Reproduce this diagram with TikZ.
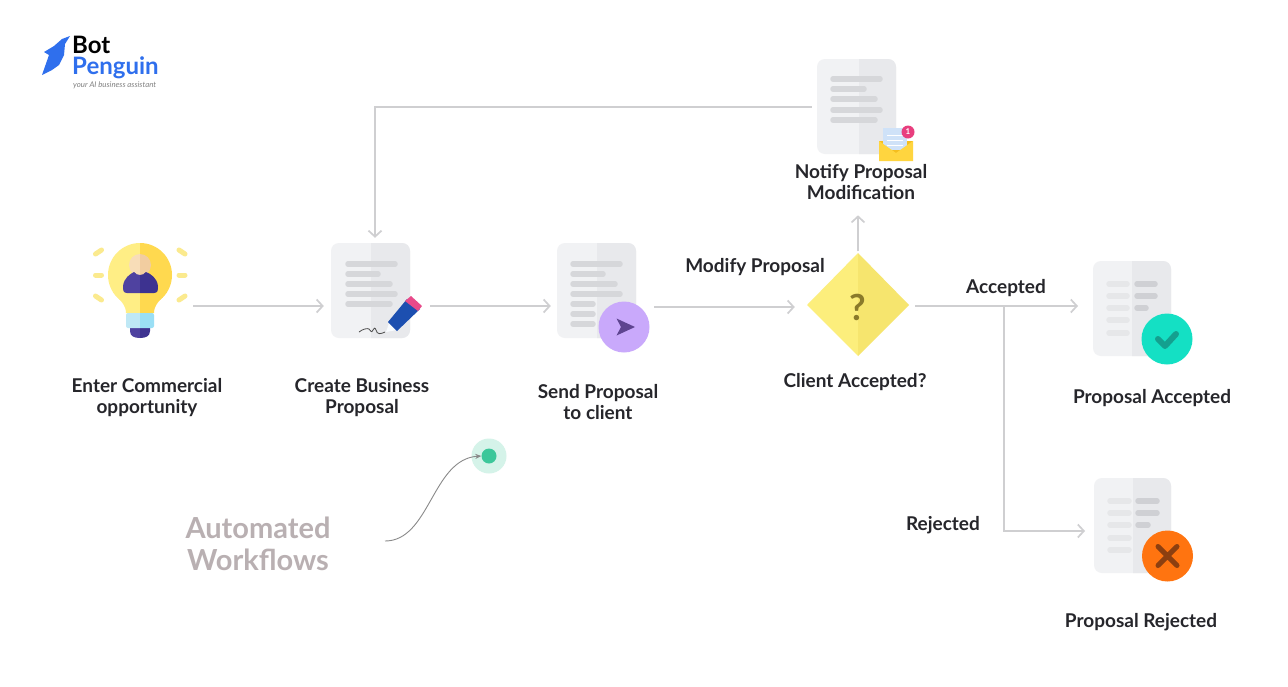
\documentclass[tikz,border=0pt]{standalone}
\usepackage{fontspec}
\setmainfont{Lato}
\usetikzlibrary{arrows.meta,shapes.geometric}
\definecolor{conn}{HTML}{CFCFD1}
\definecolor{docl}{HTML}{F1F2F4}
\definecolor{docr}{HTML}{E8E9EC}
\definecolor{lineA}{HTML}{D6D7DA}
\definecolor{lineB}{HTML}{E6E7E9}
\definecolor{lineC}{HTML}{CFD0D4}
\definecolor{inktxt}{HTML}{26262B}
\definecolor{brandblue}{HTML}{2F6FED}
\definecolor{ray}{HTML}{FBEA8E}
\definecolor{bulbL}{HTML}{FFEE85}
\definecolor{bulbR}{HTML}{FFD94F}
\definecolor{baseL}{HTML}{BFE8F5}
\definecolor{baseR}{HTML}{9ADFF5}
\definecolor{darkL}{HTML}{4F42A0}
\definecolor{darkR}{HTML}{3D3290}
\definecolor{skinL}{HTML}{F8DDB8}
\definecolor{skinR}{HTML}{F2CDA0}
\definecolor{penblue}{HTML}{1C4FB0}
\definecolor{penpink}{HTML}{E84A8A}
\definecolor{lav}{HTML}{C9A9FB}
\definecolor{plane}{HTML}{5E4490}
\definecolor{envA}{HTML}{F5BE1E}
\definecolor{envB}{HTML}{FFD53F}
\definecolor{paper}{HTML}{CFE2F8}
\definecolor{bell}{HTML}{E83E7E}
\definecolor{diaL}{HTML}{FCEE7C}
\definecolor{diaR}{HTML}{F6E56E}
\definecolor{qmark}{HTML}{8A7A2A}
\definecolor{okfill}{HTML}{14E0C4}
\definecolor{okmark}{HTML}{14A08F}
\definecolor{nofill}{HTML}{FF7410}
\definecolor{nomark}{HTML}{8C3F10}
\definecolor{awtxt}{HTML}{B9B0B2}
\definecolor{halo}{HTML}{D5F3E9}
\definecolor{dotg}{HTML}{3CC79A}
\definecolor{curve}{HTML}{8A8A8A}
\tikzset{
  flow/.style={draw=conn,line width=1.7pt,-{Straight Barb[length=6pt,width=13pt,line width=1.7pt]}},
  docbox/.style={fill=docl,rounded corners=8pt,inner sep=0pt},
  lbl/.style={font=\fontsize{19}{21}\selectfont\bfseries,text=inktxt,align=center,inner sep=0pt,yshift=-1pt},
  txtbar/.style={line cap=round,line width=5.5pt},
  badge/.style={circle,inner sep=0pt},
}
% name, left, top, right, bottom, mid
\newcommand{\docsheet}[6]{%
  \node[docbox,minimum width=#4pt-#2pt,minimum height=#5pt-#3pt] (#1) at ({(#2+#4)/2},{(#3+#5)/2}) {};
  \begin{scope}
    \clip (#6,#3) rectangle (#4,#5);
    \fill[docr,rounded corners=8pt] (#2,#3) rectangle (#4,#5);
  \end{scope}}
\newcommand{\bulbbody}[4]{% glass, base, dark, skin
  \fill[#1] (140,275) circle (32pt);
  \fill[#1] (113,292) .. controls (120,300) and (126,305) .. (126,313) -- (154,313) .. controls (154,305) and (160,300) .. (167,292) -- cycle;
  \fill[#3] (130,322) -- (150,322) -- (150,331) .. controls (150,336) and (146,338) .. (140,338) .. controls (134,338) and (130,336) .. (130,331) -- cycle;
  \fill[#2,rounded corners=2pt] (126,313) -- (154,313) -- (154,328) -- (126,328) -- cycle;
  \fill[#4] (140,265) circle (11pt);
  \fill[#3] (127,293) .. controls (123,293) and (123,290) .. (123,286) .. controls (124,278) and (130,274) .. (134,272) .. controls (137,276) and (143,276) .. (146,272) .. controls (151,274) and (157,278) .. (158,286) .. controls (158,290) and (158,293) .. (154,293) -- cycle;
}
\begin{document}
\begin{tikzpicture}[x=1pt,y=-1pt]
\useasboundingbox (0,0) rectangle (1288,686);
\fill[white] (0,0) rectangle (1288,686);

% --- logo
\fill[brandblue] (70,36) -- (62,39) -- (54,46) -- (44,52) -- (49,55) -- (42,75) -- (52,70) -- (59,65) -- (64,55) -- (65,44) -- cycle;
\node[anchor=north west,align=left,inner sep=0pt,font=\fontsize{24}{21}\selectfont\bfseries,text=black] (logoA) at (72,36) {Bot\\\textcolor{brandblue}{Penguin}};
\node[anchor=west,inner sep=0pt,font=\fontsize{7.8}{9}\selectfont\itshape,text=gray] (logoC) at (73,85.5) {your AI business assistant};

% --- bulb
\node[inner sep=0pt,minimum width=90pt,minimum height=95pt] (bulb) at (140,291) {};
\foreach \yy/\dl in {252/2,275/0,298/-2}{
  \draw[ray,line width=5pt,line cap=round] (95.5,\yy+\dl) -- (101.5,\yy-\dl);
  \draw[ray,line width=5pt,line cap=round] (179,\yy-\dl) -- (185,\yy+\dl);
}
\begin{scope}
  \clip (100,235) rectangle (140,345);
  \bulbbody{bulbL}{baseL}{darkL}{skinL}
\end{scope}
\begin{scope}
  \clip (140,235) rectangle (180,345);
  \bulbbody{bulbR}{baseR}{darkR}{skinR}
\end{scope}

% --- documents
\docsheet{create}{331}{243}{410}{338}{371}
\foreach \yy/\xe in {264/397,274/380,284/392,294/397,304/392}
  \draw[lineA,txtbar] (348,\yy) -- (\xe-2,\yy);
\docsheet{send}{557}{243}{636}{338}{597}
\foreach \yy/\xe in {264/622,274/605,284/617,294/622,304/595,314/595,324/595}
  \draw[lineA,txtbar] (573,\yy) -- (\xe-2,\yy);
\docsheet{notify}{817}{59}{896}{154}{859}
\foreach \yy/\xe in {79/882,89/866,99/877,110/882,120/877}
  \draw[lineA,txtbar] (833,\yy) -- (\xe-2,\yy);
\docsheet{acc}{1093}{261}{1171}{356}{1132}
\foreach \yy in {284,296,308,320,333}
  \draw[lineB,txtbar] (1109,\yy) -- (1127,\yy);
\foreach \yy/\xe in {284/1155,296/1155,308/1146}
  \draw[lineC,txtbar] (1137,\yy) -- (\xe,\yy);
\docsheet{rej}{1094}{478}{1171}{573}{1133}
\foreach \yy in {501,513,525,538,550}
  \draw[lineB,txtbar] (1110,\yy) -- (1129,\yy);
\foreach \yy/\xe in {501/1157,513/1157,525/1148}
  \draw[lineC,txtbar] (1138,\yy) -- (\xe,\yy);

% --- pen on create
\draw[black!70,line width=0.8pt] (359,332) .. controls (363,329) and (367,328) .. (369,329) .. controls (371,330) and (371,334) .. (373,330) .. controls (374,328) and (375,327) .. (376,330) .. controls (377,335) and (381,334) .. (385,332);
\fill[white!85!paper] (386,332) -- (389,323) -- (397,330) -- cycle;
\fill[penblue] (388,322) -- (407,299) -- (420,309) -- (397,331) -- cycle;
\fill[penpink] (405,301) -- (411,296) -- (422,306) -- (418,311) -- cycle;

% --- send badge
\node[badge,fill=lav,minimum size=51pt] (sendb) at (624,327) {};
\fill[plane] (616.5,318.5) -- (635,327) -- (616.5,335.5) -- (621,327) -- cycle;

% --- envelope on notify
\fill[envA] (879,141) -- (913,141) -- (913,161) -- (879,161) -- cycle;
\fill[paper] (883,128) rectangle (907,150);
\foreach \yy in {135,140,145}\draw[white,line width=1pt] (887,\yy) -- (903,\yy);
\fill[envB] (879,141) -- (896,153) -- (913,141) -- (913,161) -- (879,161) -- cycle;
\node[badge,fill=bell,minimum size=13pt,text=white,font=\fontsize{8}{8}\selectfont\bfseries] (bellb) at (908,132) {1};

% --- decision
\fill[diaL] (858,253) -- (807,305) -- (858,356) -- cycle;
\fill[diaR] (858,253) -- (909,305) -- (858,356) -- cycle;
\node[diamond,minimum width=102pt,minimum height=103pt,inner sep=0pt] (decide) at (858,305) {};
\node[inner sep=0pt,text=qmark,font=\fontsize{36}{36}\selectfont\bfseries] (qm) at (857.5,307) {?};

% --- accepted / rejected badges
\node[badge,fill=okfill,minimum size=51pt] (okb) at (1167,339) {};
\draw[okmark,line width=6pt,line cap=round,line join=round] (1158,339) -- (1165,346) -- (1176,334);
\node[badge,fill=nofill,minimum size=51pt] (nob) at (1167.5,556) {};
\draw[nomark,line width=5pt,line cap=round] (1158,546.5) -- (1177,565.5) (1177,546.5) -- (1158,565.5);

% --- connectors
\draw[flow,shorten <=8pt,shorten >=7pt] (bulb.east |- 0,306) -- (create.west |- 0,306);
\draw[flow,shorten <=20pt,shorten >=6pt] (create.east |- 0,306) -- (send.west |- 0,306);
\draw[flow,shorten <=18pt,shorten >=12pt] (send.east |- 0,307) -- (decide.west |- 0,307);
\draw[flow,shorten <=2pt] (decide.north) -- ++(0,38pt);
\coordinate (acctip) at (1078,306);
\draw[flow,shorten <=6pt] (decide.east |- acctip) -- (acctip);
\coordinate (rejjoint) at (1004,306);
\coordinate (rejtip) at (1085,531);
\draw[flow] (rejjoint) -- (rejjoint |- rejtip) -- (rejtip);
\coordinate (backjoint) at (375,107);
\draw[flow,shorten <=5pt,shorten >=5pt] (notify.west |- backjoint) -- (backjoint) -- (backjoint |- create.north);

% --- labels
\node[lbl] (t1) at (147,396.5) {Enter Commercial\\opportunity};
\node[lbl] (t2) at (362,396.5) {Create Business\\Proposal};
\node[lbl] (t3) at (598,401.5) {Send Proposal\\to client};
\node[lbl] (t4) at (755,266) {Modify Proposal};
\node[lbl] (t5) at (855,381) {Client Accepted?};
\node[lbl] (t6) at (861,181.5) {Notify Proposal\\Modification};
\node[lbl] (t7) at (1006,287) {Accepted};
\node[lbl] (t8) at (1152,397) {Proposal Accepted};
\node[lbl] (t9) at (943,524) {Rejected};
\node[lbl] (t10) at (1141,621) {Proposal Rejected};

% --- automated workflows
\node[align=center,inner sep=0pt,text=awtxt,font=\fontsize{29}{32}\selectfont\bfseries] (aw) at (258,544) {Automated\\Workflows};
\node[badge,fill=halo,minimum size=35pt] (hal) at (489,456) {};
\node[badge,fill=dotg,minimum size=15pt] (dot) at (489,456) {};
\coordinate (cstart) at (385,541);
\draw[curve,line width=0.9pt,-{Stealth[length=6pt,width=5pt]}] (cstart) .. controls (430,541) and (432,459) .. (dot.west);
\end{tikzpicture}
\end{document}
